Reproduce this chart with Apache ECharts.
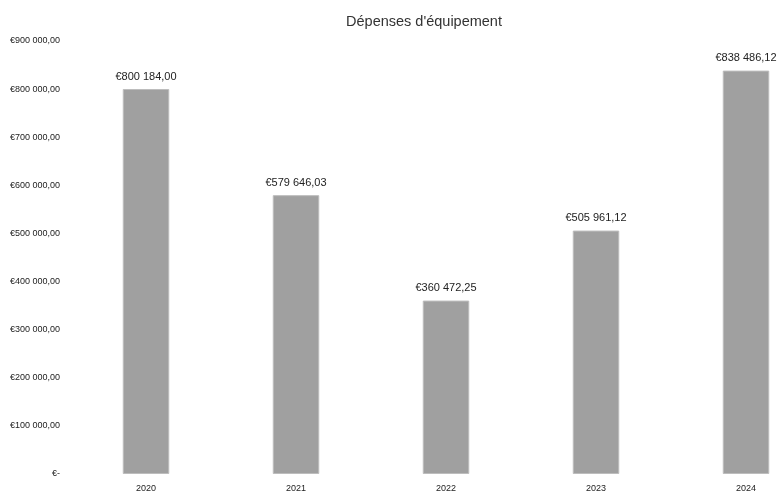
<!DOCTYPE html>
<html>
<head>
<meta charset="utf-8">
<script src="https://cdn.jsdelivr.net/npm/echarts@6/dist/echarts.min.js"></script>
<style>
  html, body { margin: 0; padding: 0; background: #fff; }
  #chart { width: 779px; height: 495px; }
</style>
</head>
<body>
<div id="chart"></div>
<script>
var years = ["2020", "2021", "2022", "2023", "2024"];
var depenses = [800184.00, 579646.03, 360472.25, 505961.12, 838486.12];

// format "€800 184,00"
function euro(v) {
  if (v === 0) return "€-";
  var parts = v.toFixed(2).split(".");
  var ent = parts[0].replace(/\B(?=(\d{3})+(?!\d))/g, " ");
  return "€" + ent + "," + parts[1];
}

var myChart = echarts.init(document.getElementById("chart"));
var option = {
  animation: false,
  title: {
    text: "Dépenses d'équipement",
    left: 419,
    top: 9,
    textAlign: "center",
    textStyle: {
      fontFamily: "Liberation Sans",
      fontSize: 14.5,
      fontWeight: "normal",
      color: "#333"
    }
  },
  // la grille dépasse à droite, comme sur l'image
  grid: { left: 71, top: 41, width: 750, bottom: 21, outerBoundsMode: "none", containLabel: false },
  xAxis: {
    type: "category",
    data: years,
    axisLine: { show: false },
    axisTick: { show: false },
    axisLabel: {
      color: "#222",
      fontFamily: "Liberation Sans",
      fontSize: 9,
      margin: 10
    }
  },
  yAxis: {
    type: "value",
    min: 0,
    max: 900000,
    interval: 100000,
    splitLine: { show: false },
    axisLine: { show: false },
    axisTick: { show: false },
    axisLabel: {
      color: "#222",
      fontFamily: "Liberation Sans",
      fontSize: 9,
      margin: 11,
      formatter: euro
    }
  },
  series: [
    {
      type: "bar",
      data: depenses,
      barWidth: "31%",
      itemStyle: {
        color: "#a0a0a0",
        borderColor: "#bdbdbd",
        borderWidth: 1
      },
      label: {
        show: true,
        position: "top",
        distance: 7,
        color: "#222",
        fontFamily: "Liberation Sans",
        fontSize: 11,
        formatter: function (p) { return euro(p.value); }
      }
    }
  ]
};
myChart.setOption(option);
</script>
</body>
</html>
